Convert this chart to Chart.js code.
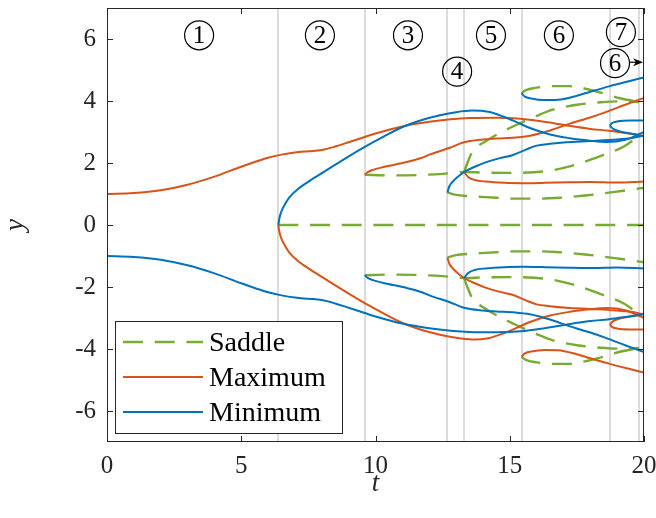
<!DOCTYPE html>
<html>
<head>
<meta charset="utf-8">
<script src="https://cdn.jsdelivr.net/npm/chart.js@4.4.1/dist/chart.umd.min.js"></script>
<style>
  html, body { margin: 0; padding: 0; background: #fff; }
  #wrap { width: 656px; height: 518px; }
</style>
</head>
<body>
<div id="wrap"><canvas id="chart" width="656" height="518"></canvas></div>
<script>
// axis ticks
var xTicks = [0, 5, 10, 15, 20];
var yTicks = [-6, -4, -2, 0, 2, 4, 6];

// times where the set of equilibria changes
var transitionT = [6.38, 9.6, 12.68, 13.3, 15.44, 18.73, 19.82];

// region numbers and where they sit (t, y)
var regionNums = ['1', '2', '3', '4', '5', '6', '7', '6'];
var regionT = [3.43, 7.93, 11.21, 13.04, 14.3, 16.83, 19.14, 18.92];
var regionY = [6.12, 6.12, 6.12, 4.95, 6.12, 6.12, 6.22, 5.22];

// equilibrium branches, [t, y]
// upper half
var maxUpA = [[0,1.0],[1,1.03],[2,1.12],[3,1.3],[4,1.56],[5,1.88],[5.5,2.03],[6,2.17],[6.5,2.27],[7,2.34],[7.5,2.38],[8,2.42],[8.5,2.53],[9,2.67],[9.6,2.84],[10,2.95],[11,3.18],[12,3.33],[12.8,3.41],[13.5,3.45],[14.5,3.46],[15.4,3.43],[16.3,3.33],[17.2,3.2],[18,3.1],[18.7,3.04],[19.3,2.97],[20,2.88]];
var minUpB = [[6.38,0],[6.42,0.22],[6.5,0.45],[6.65,0.7],[6.8,0.9],[7.1,1.15],[7.56,1.43],[8.05,1.7],[8.55,1.97],[9.05,2.24],[9.6,2.52],[10.3,2.85],[11.03,3.17],[11.7,3.38],[12.4,3.54],[13,3.64],[13.6,3.69],[14.2,3.65],[14.75,3.5],[15.3,3.3],[15.75,3.13],[16.5,2.92],[17.24,2.8],[18,2.72],[18.6,2.68],[19.3,2.75],[20,3.0]];
var maxUpC = [[9.6,1.62],[9.7,1.7],[9.9,1.78],[10.3,1.87],[11.16,2.03],[11.7,2.16],[12.03,2.28],[12.77,2.49],[13.26,2.66],[14,2.76],[14.5,2.79],[15.2,2.82],[15.75,2.88],[16.5,3.05],[17.24,3.27],[18,3.47],[18.6,3.65],[19.3,3.88],[20,4.1]];
var sadUpB = [[9.6,1.62],[10.5,1.6],[11.5,1.61],[12.5,1.65],[13.3,1.71],[14,1.69],[15,1.68],[16.3,1.73],[17.27,1.9],[18.42,2.24],[19.25,2.53],[19.82,2.88]];
var minUpC = [[12.68,1.05],[12.75,1.25],[12.9,1.42],[13.1,1.58],[13.3,1.71],[13.7,1.88],[14.1,2.02],[14.6,2.15],[15.1,2.25],[15.6,2.43],[16,2.56],[16.5,2.62],[17.1,2.67],[18,2.71],[19,2.76],[19.5,2.8],[20,2.88]];
var sadUpC = [[12.68,1.05],[13,0.97],[13.5,0.93],[14.5,0.88],[15,0.85],[16,0.85],[16.7,0.87],[17.8,0.95],[19.1,1.09],[20,1.2]];
var maxUpD = [[13.3,1.71],[13.45,1.55],[13.7,1.45],[14.1,1.4],[14.8,1.36],[15.5,1.35],[16.3,1.36],[17.2,1.38],[18,1.39],[19,1.37],[20,1.4]];
var sadUpD = [[13.3,1.71],[13.4,1.95],[13.6,2.35],[14.1,2.7],[14.7,3.0],[15.3,3.25],[16,3.52],[16.6,3.72],[17.5,3.88],[18.4,3.96],[19.1,3.99],[19.82,3.97]];
var minUpD = [[15.44,4.25],[15.55,4.15],[15.8,4.08],[16.3,4.03],[16.8,4.04],[17.5,4.17],[18,4.3],[18.73,4.48],[19.4,4.63],[20,4.76]];
var sadUpE = [[15.44,4.25],[15.6,4.35],[16,4.43],[16.6,4.48],[17.2,4.48],[17.9,4.38],[18.6,4.22],[19.1,4.09],[19.82,3.97]];
var minUpE = [[18.73,3.2],[18.8,3.28],[19,3.34],[19.5,3.37],[20,3.37]];
var minUpF = [[18.73,3.2],[18.85,3.1],[19.1,3.02],[19.5,2.95],[19.82,2.9]];

// centre line
var sadMid = [[6.38,0],[20,0]];

// lower half
var minLoA = [[0,-1.0],[1,-1.03],[2,-1.12],[3,-1.3],[4,-1.56],[5,-1.88],[5.5,-2.03],[6,-2.17],[6.5,-2.27],[7,-2.34],[7.5,-2.38],[8,-2.42],[8.5,-2.53],[9,-2.67],[9.6,-2.84],[10,-2.95],[11,-3.18],[12,-3.33],[12.8,-3.41],[13.5,-3.45],[14.5,-3.46],[15.4,-3.43],[16.3,-3.33],[17.2,-3.2],[18,-3.1],[18.7,-3.04],[19.3,-2.97],[20,-2.88]];
var maxLoB = [[6.38,0],[6.42,-0.22],[6.5,-0.45],[6.65,-0.7],[6.8,-0.9],[7.1,-1.15],[7.56,-1.43],[8.05,-1.7],[8.55,-1.97],[9.05,-2.24],[9.6,-2.52],[10.3,-2.85],[11.03,-3.17],[11.7,-3.38],[12.4,-3.54],[13,-3.64],[13.6,-3.69],[14.2,-3.65],[14.75,-3.5],[15.3,-3.3],[15.75,-3.13],[16.5,-2.92],[17.24,-2.8],[18,-2.72],[18.6,-2.68],[19.3,-2.75],[20,-3.0]];
var minLoC = [[9.6,-1.62],[9.7,-1.7],[9.9,-1.78],[10.3,-1.87],[11.16,-2.03],[11.7,-2.16],[12.03,-2.28],[12.77,-2.49],[13.26,-2.66],[14,-2.76],[14.5,-2.79],[15.2,-2.82],[15.75,-2.88],[16.5,-3.05],[17.24,-3.27],[18,-3.47],[18.6,-3.65],[19.3,-3.88],[20,-4.1]];
var sadLoB = [[9.6,-1.62],[10.5,-1.6],[11.5,-1.61],[12.5,-1.65],[13.3,-1.71],[14,-1.69],[15,-1.68],[16.3,-1.73],[17.27,-1.9],[18.42,-2.24],[19.25,-2.53],[19.82,-2.88]];
var maxLoC = [[12.68,-1.05],[12.75,-1.25],[12.9,-1.42],[13.1,-1.58],[13.3,-1.71],[13.7,-1.88],[14.1,-2.02],[14.6,-2.15],[15.1,-2.25],[15.6,-2.43],[16,-2.56],[16.5,-2.62],[17.1,-2.67],[18,-2.71],[19,-2.76],[19.5,-2.8],[20,-2.88]];
var sadLoC = [[12.68,-1.05],[13,-0.97],[13.5,-0.93],[14.5,-0.88],[15,-0.85],[16,-0.85],[16.7,-0.87],[17.8,-0.95],[19.1,-1.09],[20,-1.2]];
var minLoD = [[13.3,-1.71],[13.45,-1.55],[13.7,-1.45],[14.1,-1.4],[14.8,-1.36],[15.5,-1.35],[16.3,-1.36],[17.2,-1.38],[18,-1.39],[19,-1.37],[20,-1.4]];
var sadLoD = [[13.3,-1.71],[13.4,-1.95],[13.6,-2.35],[14.1,-2.7],[14.7,-3.0],[15.3,-3.25],[16,-3.52],[16.6,-3.72],[17.5,-3.88],[18.4,-3.96],[19.1,-3.99],[19.82,-3.97]];
var maxLoD = [[15.44,-4.25],[15.55,-4.15],[15.8,-4.08],[16.3,-4.03],[16.8,-4.04],[17.5,-4.17],[18,-4.3],[18.73,-4.48],[19.4,-4.63],[20,-4.76]];
var sadLoE = [[15.44,-4.25],[15.6,-4.35],[16,-4.43],[16.6,-4.48],[17.2,-4.48],[17.9,-4.38],[18.6,-4.22],[19.1,-4.09],[19.82,-3.97]];
var maxLoE = [[18.73,-3.2],[18.8,-3.28],[19,-3.34],[19.5,-3.37],[20,-3.37]];
var maxLoF = [[18.73,-3.2],[18.85,-3.1],[19.1,-3.02],[19.5,-2.95],[19.82,-2.9]];

var saddleBranches = [sadMid, sadUpB, sadUpC, sadUpD, sadUpE, sadLoB, sadLoC, sadLoD, sadLoE];
var maxBranches = [maxUpA, maxUpC, maxUpD, maxLoB, maxLoC, maxLoD, maxLoE, maxLoF];
var minBranches = [minLoA, minUpB, minUpC, minUpD, minUpE, minUpF, minLoC, minLoD];

var legendNames = ['Saddle', 'Maximum', 'Minimum'];

var ink = '#262626';
var colSaddle = '#77AC30';
var colMax = '#D95319';
var colMin = '#0072BD';
var saddleDash = [20, 11.7];
var serif = "'Liberation Serif', 'DejaVu Serif', serif";

function branch(pts, color, dashed) {
    return {
        data: pts,
        borderColor: color,
        borderWidth: dashed ? 2.4 : 2,
        borderDash: dashed ? saddleDash : [],
        borderCapStyle: 'butt',
        borderJoinStyle: 'round',
        cubicInterpolationMode: 'monotone',
        pointRadius: 0,
        fill: false
    };
}

// drop the label overhang padding so the plot box keeps its size
function noPadding(axis) {
    axis.paddingTop = 0;
    axis.paddingBottom = 0;
    axis.paddingLeft = 0;
    axis.paddingRight = 0;
}

var datasets = [];
minBranches.forEach(function (b) { datasets.push(branch(b, colMin, false)); });
maxBranches.forEach(function (b) { datasets.push(branch(b, colMax, false)); });
saddleBranches.forEach(function (b) { datasets.push(branch(b, colSaddle, true)); });

var extras = {
    id: 'extras',
    beforeDatasetsDraw: function (chart) {
        var ctx = chart.ctx, a = chart.chartArea, xs = chart.scales.x;
        ctx.save();
        ctx.strokeStyle = '#dcdcdc';
        ctx.lineWidth = 2;
        transitionT.forEach(function (t) {
            var px = Math.round(xs.getPixelForValue(t));
            ctx.beginPath();
            ctx.moveTo(px, a.top);
            ctx.lineTo(px, a.bottom);
            ctx.stroke();
        });
        ctx.restore();
    },
    afterDatasetsDraw: function (chart) {
        var ctx = chart.ctx, a = chart.chartArea;
        var xs = chart.scales.x, ys = chart.scales.y;
        ctx.save();

        // circled region numbers
        ctx.strokeStyle = '#000';
        ctx.fillStyle = '#000';
        ctx.lineWidth = 1.2;
        ctx.font = '25px ' + serif;
        ctx.textAlign = 'center';
        ctx.textBaseline = 'middle';
        regionNums.forEach(function (n, i) {
            var cx = xs.getPixelForValue(regionT[i]);
            var cy = ys.getPixelForValue(regionY[i]);
            ctx.beginPath();
            ctx.arc(cx, cy, 14.5, 0, Math.PI * 2);
            ctx.stroke();
            ctx.fillText(n, cx, cy + 1);
        });

        // arrow from the last label to the right edge
        var ay = ys.getPixelForValue(5.25);
        var ax0 = xs.getPixelForValue(regionT[7]) + 15;
        var ax1 = a.right - 1;
        ctx.beginPath();
        ctx.moveTo(ax0, ay);
        ctx.lineTo(ax1 - 6, ay);
        ctx.stroke();
        ctx.beginPath();
        ctx.moveTo(ax1, ay);
        ctx.lineTo(ax1 - 10, ay - 4);
        ctx.lineTo(ax1 - 7, ay);
        ctx.lineTo(ax1 - 10, ay + 4);
        ctx.closePath();
        ctx.fill();

        // legend
        var lx = a.left + 8, lw = 227, lh = 112;
        var ly = a.bottom - 9 - lh;
        ctx.fillStyle = '#fff';
        ctx.fillRect(lx, ly, lw, lh);
        ctx.strokeStyle = ink;
        ctx.lineWidth = 1;
        ctx.strokeRect(lx + 0.5, ly + 0.5, lw, lh);
        var rowCols = [colSaddle, colMax, colMin];
        var rowY = [21, 56, 91];
        ctx.font = '28px ' + serif;
        ctx.textAlign = 'left';
        ctx.textBaseline = 'alphabetic';
        legendNames.forEach(function (name, i) {
            var y = ly + rowY[i];
            ctx.strokeStyle = rowCols[i];
            ctx.lineWidth = i === 0 ? 2.4 : 2;
            ctx.setLineDash(i === 0 ? saddleDash : []);
            ctx.lineCap = 'butt';
            ctx.beginPath();
            ctx.moveTo(lx + 8, y);
            ctx.lineTo(lx + 88, y);
            ctx.stroke();
            ctx.setLineDash([]);
            ctx.fillStyle = '#000';
            ctx.fillText(name, lx + 94, y + 9);
        });

        // axes box with inward ticks on all sides
        ctx.strokeStyle = ink;
        ctx.lineWidth = 1;
        ctx.strokeRect(a.left + 0.5, a.top + 0.5, a.right - a.left - 1, a.bottom - a.top - 1);
        ctx.beginPath();
        xTicks.forEach(function (v) {
            var px = Math.round(xs.getPixelForValue(v)) + 0.5;
            ctx.moveTo(px, a.bottom);
            ctx.lineTo(px, a.bottom - 6);
            ctx.moveTo(px, a.top);
            ctx.lineTo(px, a.top + 6);
        });
        yTicks.forEach(function (v) {
            var py = Math.round(ys.getPixelForValue(v)) + 0.5;
            ctx.moveTo(a.left, py);
            ctx.lineTo(a.left + 6, py);
            ctx.moveTo(a.right, py);
            ctx.lineTo(a.right - 6, py);
        });
        ctx.stroke();
        ctx.restore();
    }
};

var chart = new Chart(document.getElementById('chart'), {
    type: 'line',
    data: { datasets: datasets },
    options: {
        responsive: false,
        animation: false,
        devicePixelRatio: 1,
        layout: { padding: { top: 8, right: 12, left: 0, bottom: 0 } },
        plugins: {
            legend: { display: false },
            tooltip: { enabled: false }
        },
        scales: {
            x: {
                type: 'linear',
                min: 0,
                max: 20,
                afterBuildTicks: function (axis) {
                    axis.ticks = xTicks.map(function (v) { return { value: v }; });
                },
                afterFit: function (axis) { axis.height = 76; noPadding(axis); },
                grid: { display: false, drawTicks: false },
                border: { display: false },
                ticks: { padding: 9, color: ink, maxRotation: 0, autoSkip: false, font: { family: serif, size: 25 } },
                title: { display: true, text: 't', color: ink, font: { family: serif, size: 27, style: 'italic' }, padding: { top: 0, bottom: 18 } }
            },
            y: {
                type: 'linear',
                min: -7,
                max: 7,
                afterBuildTicks: function (axis) {
                    axis.ticks = yTicks.map(function (v) { return { value: v }; });
                },
                afterFit: function (axis) { axis.width = 107; noPadding(axis); },
                grid: { display: false, drawTicks: false },
                border: { display: false },
                ticks: { padding: 11, color: ink, autoSkip: false, font: { family: serif, size: 25 } },
                title: { display: true, text: 'y', color: ink, font: { family: serif, size: 27, style: 'italic' }, padding: { top: 0, bottom: 0 } }
            }
        }
    },
    plugins: [extras]
});
</script>
</body>
</html>
